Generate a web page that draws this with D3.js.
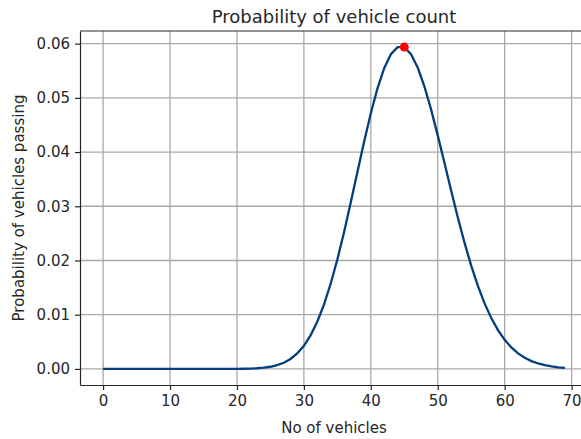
<!DOCTYPE html>
<html>
<head>
<meta charset="utf-8">
<script src="https://cdn.jsdelivr.net/npm/d3@7"></script>
<style>
  body { margin: 0; background: #fff; }
  svg text { font-family: "DejaVu Sans", sans-serif; fill: #262626; }
  .grid line { stroke: #a8a8a8; stroke-width: 1.3; }
  .axis path, .axis line { stroke: #262626; stroke-width: 1.2; }
</style>
</head>
<body>
<script>
// vehicle counts 0..69 and probability
var counts = d3.range(0, 70);
var probs = [
  0, 0, 0, 0, 0, 0, 0, 0, 0, 0,
  0, 0, 0, 0, 0, 0, 0, 0.000001, 0.0000026, 0.0000061,
  0.0000136, 0.0000292, 0.0000598, 0.000117, 0.000219, 0.000395, 0.000683, 0.001139, 0.001831, 0.002841,
  0.004261, 0.006185, 0.008697, 0.01186, 0.0157, 0.02018, 0.02522, 0.03068, 0.03633, 0.04192,
  0.04716, 0.05176, 0.05546, 0.05804, 0.05936, 0.05936, 0.05807, 0.0556, 0.05213, 0.04787,
  0.04308, 0.03801, 0.0329, 0.02793, 0.02328, 0.01904, 0.0153, 0.01208, 0.00937, 0.00715,
  0.00536, 0.00396, 0.00287, 0.00205, 0.00144, 0.001, 0.00068, 0.00046, 0.0003, 0.0002
];
var xTicks = [0, 10, 20, 30, 40, 50, 60, 70];
var yTicks = [0, 0.01, 0.02, 0.03, 0.04, 0.05, 0.06];
var peakX = 45, peakY = 0.05936;

var W = 581, H = 439;
var pLeft = 80, pTop = 31, pRight = 588, pBottom = 385;

var svg = d3.select("body").append("svg")
    .attr("width", W).attr("height", H);

var x = d3.scaleLinear().domain([-3.45, 72.45]).range([pLeft, pRight]);
var y = d3.scaleLinear().domain([-0.00297, 0.06233]).range([pBottom, pTop]);

// grid
var grid = svg.append("g").attr("class", "grid");
grid.selectAll(".gx").data(xTicks).enter().append("line")
    .attr("x1", function(d) { return x(d); }).attr("x2", function(d) { return x(d); })
    .attr("y1", pTop).attr("y2", pBottom);
grid.selectAll(".gy").data(yTicks).enter().append("line")
    .attr("y1", function(d) { return y(d); }).attr("y2", function(d) { return y(d); })
    .attr("x1", pLeft).attr("x2", pRight);

// axes
svg.append("g").attr("class", "axis")
    .attr("transform", "translate(0," + pBottom + ")")
    .call(d3.axisBottom(x).tickValues(xTicks).tickSize(5).tickPadding(5).tickSizeOuter(0))
    .selectAll("text").style("font-size", "15px");
svg.append("g").attr("class", "axis")
    .attr("transform", "translate(" + pLeft + ",0)")
    .call(d3.axisLeft(y).tickValues(yTicks).tickFormat(d3.format(".2f")).tickSize(5).tickPadding(5).tickSizeOuter(0))
    .selectAll("text").style("font-size", "15px");
svg.append("line").attr("x1", pLeft).attr("x2", pRight).attr("y1", pTop).attr("y2", pTop)
    .attr("stroke", "#262626").attr("stroke-width", 1.2);

svg.selectAll(".axis text").style("fill", "#262626");

// curve
var line = d3.line()
    .x(function(d, i) { return x(counts[i]); })
    .y(function(d) { return y(d); });
svg.append("path")
    .datum(probs)
    .attr("d", line)
    .attr("fill", "none")
    .attr("stroke", "#023e7d")
    .attr("stroke-width", 2.3);

// peak marker
svg.append("circle")
    .attr("cx", x(peakX)).attr("cy", y(peakY)).attr("r", 4.5)
    .attr("fill", "#ff0000");

// labels
svg.append("text").attr("x", (pLeft + pRight) / 2).attr("y", 23)
    .attr("text-anchor", "middle").style("font-size", "18px")
    .text("Probability of vehicle count");
svg.append("text").attr("x", (pLeft + pRight) / 2).attr("y", 433)
    .attr("text-anchor", "middle").style("font-size", "15px")
    .text("No of vehicles");
svg.append("text")
    .attr("transform", "translate(24," + ((pTop + pBottom) / 2) + ") rotate(-90)")
    .attr("text-anchor", "middle").style("font-size", "15px")
    .text("Probability of vehicles passing");
</script>
</body>
</html>
